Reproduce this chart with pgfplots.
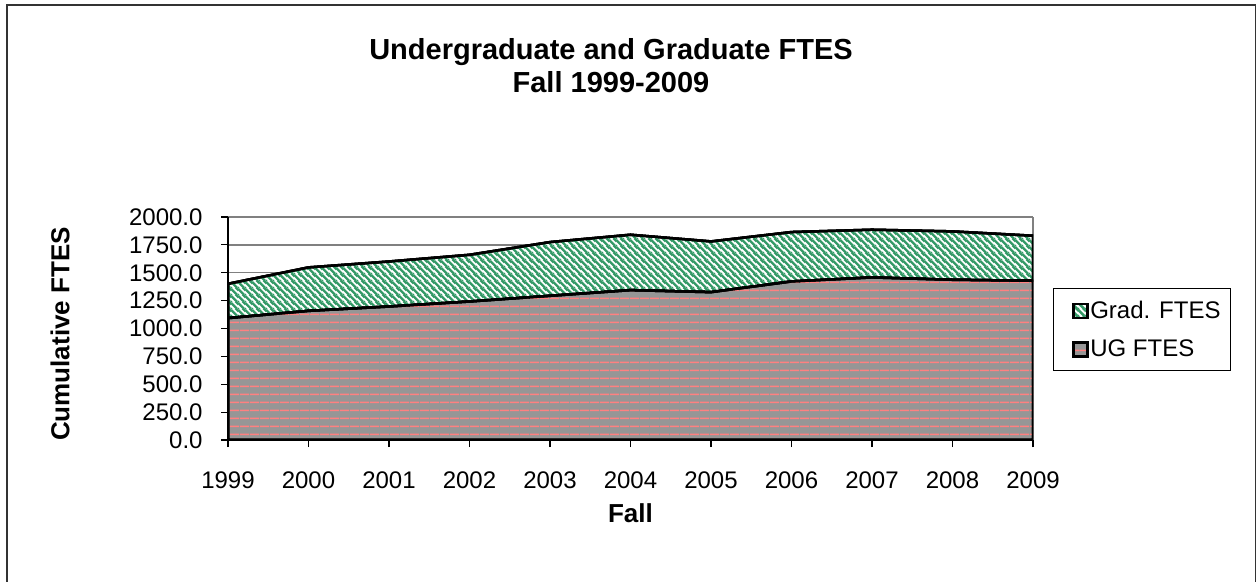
\documentclass[border=0pt]{standalone}
\usepackage{pgfplots}
\usepackage{pgfplotstable}
\pgfplotsset{compat=1.18}
\usepackage{fontspec}
\setmainfont{Liberation Sans}
\usetikzlibrary{patterns}

\definecolor{ugpink}{HTML}{FF8080}
\definecolor{uggray}{HTML}{969696}
\definecolor{gradgreen}{HTML}{339966}
\definecolor{gridgray}{HTML}{808080}

\pgfdeclarepatternformonly{ughlines}{\pgfpoint{0bp}{0bp}}{\pgfpoint{10bp}{7.6bp}}{\pgfpoint{10bp}{7.6bp}}{%
  \pgfsetlinewidth{1.7bp}%
  \pgfpathmoveto{\pgfpoint{0bp}{3.8bp}}%
  \pgfpathlineto{\pgfpoint{10bp}{3.8bp}}%
  \pgfusepath{stroke}%
}
\pgfdeclarepatternformonly{graddiag}{\pgfpoint{0bp}{0bp}}{\pgfpoint{7bp}{7bp}}{\pgfpoint{7bp}{7bp}}{%
  \pgfsetlinewidth{2.6bp}%
  \pgfpathmoveto{\pgfpoint{0bp}{7bp}}\pgfpathlineto{\pgfpoint{7bp}{0bp}}%
  \pgfpathmoveto{\pgfpoint{-3.5bp}{3.5bp}}\pgfpathlineto{\pgfpoint{3.5bp}{-3.5bp}}%
  \pgfpathmoveto{\pgfpoint{3.5bp}{10.5bp}}\pgfpathlineto{\pgfpoint{10.5bp}{3.5bp}}%
  \pgfusepath{stroke}%
}

\pgfplotstableread{
year ug grad
1999 1093 308
2000 1158 390
2001 1197 404
2002 1242 419
2003 1293 482
2004 1344 497
2005 1326 455
2006 1422 443
2007 1458 428
2008 1437 434
2009 1428 404
}\ftes

\begin{document}
\begin{tikzpicture}
\useasboundingbox (0,0) rectangle (1257bp,582bp);
\draw[line width=1.5bp, black!80] (7bp,-10bp) rectangle (1255.5bp,577bp);
\node[anchor=base, font=\bfseries\fontsize{29bp}{34bp}\selectfont] at (611bp,522bp) {Undergraduate and Graduate FTES};
\node[anchor=base, font=\bfseries\fontsize{29bp}{34bp}\selectfont] at (611bp,489bp) {Fall 1999-2009};
\begin{axis}[
  at={(228bp,142bp)}, anchor=south west,
  scale only axis, width=805bp, height=223bp,
  xmin=1999, xmax=2009, ymin=0, ymax=2000,
  xtick={1999,2000,...,2009}, ytick={0,250,...,2000},
  axis x line*=bottom, axis y line*=left,
  axis line style={black, line width=1.5bp, -},
  ymajorgrids, major grid style={gridgray, line width=1.5bp},
  extra x ticks={2009}, extra x tick labels={}, extra x tick style={grid=major},
  tick style={black, line width=1.2bp},
  major tick length=7bp, tick align=outside,
  /pgf/number format/assume math mode=true,
  tick label style={font=\fontsize{24bp}{28bp}\selectfont},
  yticklabel style={xshift=-15bp, /pgf/number format/.cd, fixed, fixed zerofill, precision=1, 1000 sep={}},
  xticklabel style={yshift=-21bp, /pgf/number format/.cd, 1000 sep={}},
  xlabel={Fall}, ylabel={Cumulative FTES},
  label style={font=\bfseries\fontsize{26bp}{30bp}\selectfont},
  xlabel style={at={(axis description cs:0.5,-0.33)}, anchor=center},
  ylabel style={at={(axis description cs:-0.2087,0.475)}, anchor=center},
  stack plots=y,
  legend style={at={(1.0248,0.68)}, anchor=north west, draw=black, line width=1bp,
    font=\fontsize{24bp}{28bp}\selectfont, row sep=16bp, inner xsep=8bp, inner ysep=10.5bp},
  legend cell align=left,
  legend image code/.code={\path (0bp,0bp); \draw[#1, draw=black, line width=1.2bp] (11bp,-7bp) rectangle (25bp,7bp);},
  reverse legend,
]
\addplot[draw=black, line width=2.5bp, preaction={fill=uggray}, preaction={pattern=ughlines, pattern color=ugpink}] table[x=year,y=ug]{\ftes} \closedcycle;
\addlegendentry{UG FTES}
\addplot[draw=black, line width=2.5bp, preaction={fill=white}, preaction={pattern=graddiag, pattern color=gradgreen}] table[x=year,y=grad]{\ftes} \closedcycle;
\addlegendentry{Grad. FTES}
\end{axis}
\end{tikzpicture}
\end{document}
